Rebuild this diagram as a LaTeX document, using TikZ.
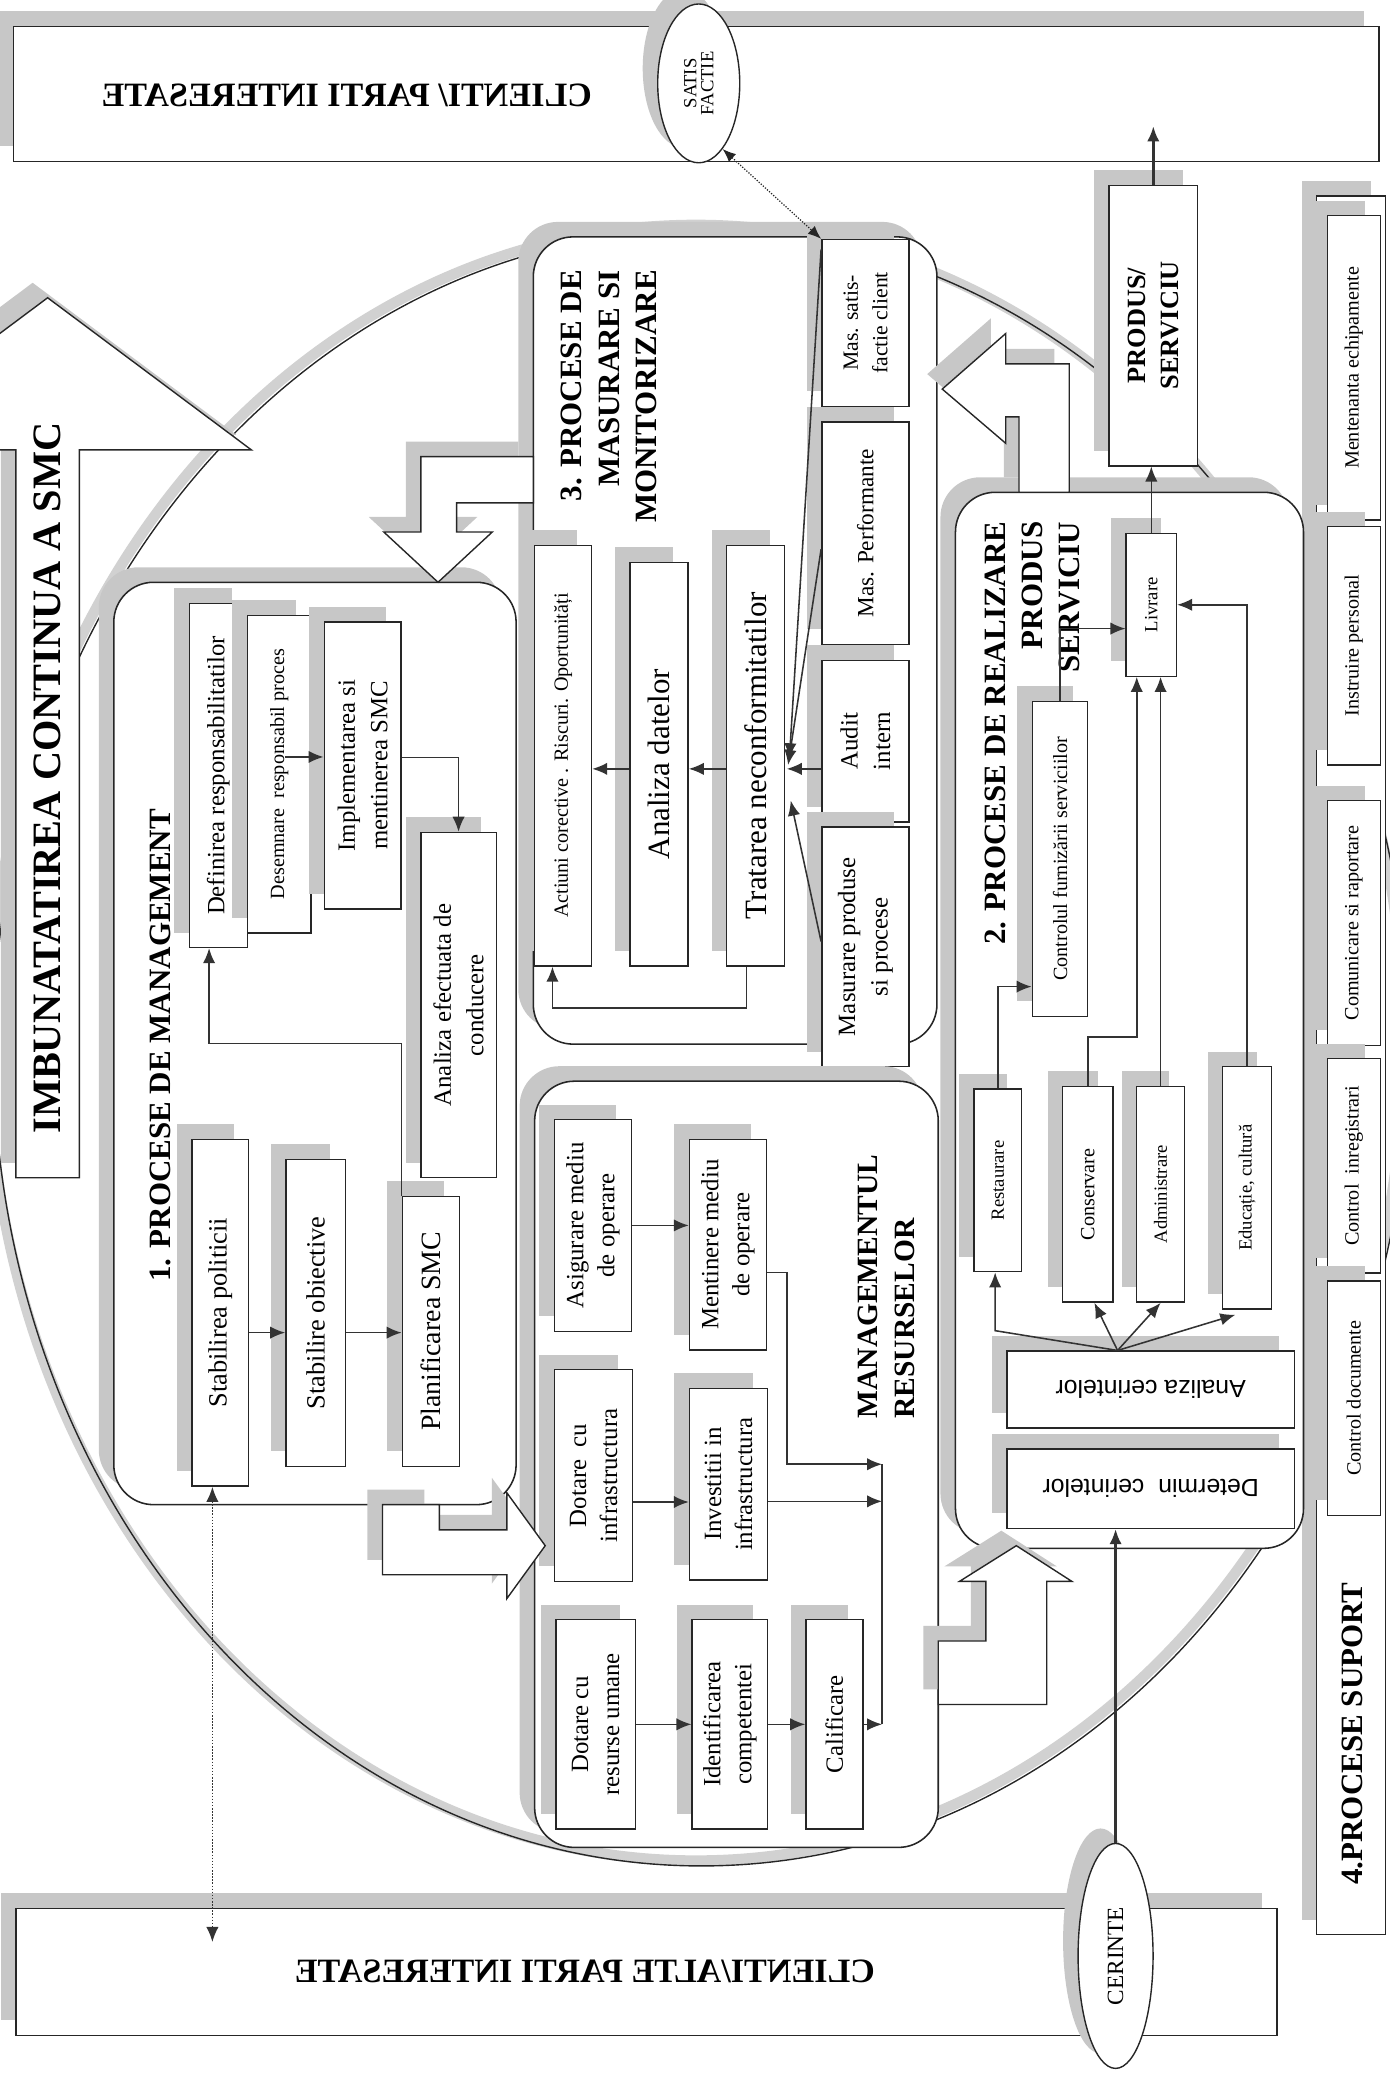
\documentclass[tikz,border=0pt]{standalone}
\usepackage{fontspec}
\setmainfont{Liberation Serif}
\newfontfamily\arialf{Liberation Sans}
\usepackage{tikz}
\usetikzlibrary{positioning}
\usetikzlibrary{calc}
\usetikzlibrary{fit}
\usetikzlibrary{shadows}
\usetikzlibrary{arrows.meta}
\usetikzlibrary{shapes.geometric}

\newcommand{\fsz}[2]{\fontsize{#1}{#2}\selectfont}

\tikzset{
  grayshadow/.style={general shadow={fill=black!22, shadow xshift=-3.4mm, shadow yshift=3.4mm}},
  procbox/.style={rectangle, draw=black!85, line width=0.9pt, fill=white, inner sep=0pt, grayshadow},
  groupbox/.style={procbox, rounded corners=9mm, line width=1pt},
  vtext/.style={rotate=90, align=center, inner sep=0pt, font=\fsz{16}{20}},
  flow/.style={draw=black!80, line width=1pt, -{Latex[length=3.4mm,width=2.8mm]}},
  blockarrow/.style={draw=black!85, line width=0.9pt, fill=white, grayshadow},
  grouptitle/.style={rotate=90, inner sep=0pt, font=\bfseries\fsz{20}{24}},
}

\begin{document}
\begin{tikzpicture}[x=0.3mm, y=-0.3mm]
  \useasboundingbox (0,0) rectangle (1050,1568);

  % cercul mare din spate
  \draw[line width=2.4mm, black!18] (526,788) ellipse [x radius=535, y radius=618];
  \draw[line width=0.9pt, black!85] (530,792) ellipse [x radius=535, y radius=618];

  % imbunatatirea continua
  \draw[blockarrow] (12,890) -- (12,340) -- (-118,340) -- (36,225) -- (190,340) -- (60,340) -- (60,890) -- cycle;
  \node[grouptitle, font=\bfseries\fsz{26}{30}] (imbtxt) at (36,588) {IMBUNATATIREA CONTINUA A SMC};

  % clienti
  \node[procbox, fit={(10,20)(1042,122)}] (clientsup) {};
  \node[xscale=-1, font=\bfseries\fsz{22}{26}] (clientsuptxt) at (262,72) {CLIENTI/ PARTI INTERESATE};
  \node[ellipse, draw=black!85, line width=0.9pt, fill=white, grayshadow, minimum width=18.6mm,
    minimum height=36mm, inner sep=0pt] (satis) at (528,63) {};
  \node[vtext, font=\fsz{12}{11}] (satistxt) at (satis) {SATIS\\FACTIE};

  \node[procbox, fit={(12,1442)(965,1538)}] (clientalte) {};
  \node[xscale=-1, font=\bfseries\fsz{22}{26}] (clientaltetxt) at (442,1490) {CLIENTI/ALTE PARTI INTERESATE};
  \node[ellipse, draw=black!85, line width=0.9pt, fill=white, grayshadow, minimum width=17mm,
    minimum height=51mm, inner sep=0pt] (cerinte) at (843,1478) {};
  \node[vtext, font=\fsz{15}{15}] (cerintetxt) at (cerinte) {CERINTE};

  % 4. procese suport
  \node[procbox, fit={(995,148)(1047,1462)}] (suport) {};
  \node[grouptitle] (suporttxt) at (1022,1310) {4.PROCESE SUPORT};
  \node[procbox, fit={(1003,163)(1043,393)}] (menten) {};
  \node[vtext, font=\fsz{13}{15}] at (menten) {Mentenanta echipamente};
  \node[procbox, fit={(1003,398)(1043,578)}] (instr) {};
  \node[vtext, font=\fsz{13}{15}] at (instr) {Instruire personal};
  \node[procbox, fit={(1003,605)(1043,790)}] (comunic) {};
  \node[vtext, font=\fsz{13}{15}] at (comunic) {Comunicare si raportare};
  \node[procbox, fit={(1003,800)(1043,962)}] (ctrlinreg) {};
  \node[vtext, font=\fsz{13}{15}] at (ctrlinreg) {Control\ \ inregistrari};
  \node[procbox, fit={(1003,968)(1043,1145)}] (ctrldoc) {};
  \node[vtext, font=\fsz{13}{15}] at (ctrldoc) {Control documente};

  % 1. procese de management
  \node[groupbox, fit={(86,440)(390,1137)}] (mgmt) {};
  \node[grouptitle] (mgmttxt) at (121,790) {1. PROCESE DE MANAGEMENT};
  \node[procbox, fit={(143,456)(187,716)}] (defin) {};
  \node[vtext] at (defin) {Definirea responsabilitatilor};
  \node[procbox, fit={(187,465)(235,705)}] (desemn) {};
  \node[vtext, font=\fsz{13}{15}] at (desemn) {Desemnare\ \ responsabil proces};
  \node[procbox, fit={(245,470)(303,687)}] (impl) {};
  \node[vtext, font=\fsz{16}{21}] at (impl) {Implementarea si\\mentinerea SMC};
  \node[procbox, fit={(318,629)(375,890)}] (anconduc) {};
  \node[vtext, font=\fsz{16}{21}] at (anconduc) {Analiza efectuata de\\conducere};
  \node[procbox, fit={(145,861)(188,1123)}] (stabpol) {};
  \node[vtext, font=\fsz{17}{20}] at (stabpol) {Stabilirea politicii};
  \node[procbox, fit={(216,876)(261,1108)}] (stabob) {};
  \node[vtext, font=\fsz{17}{20}] at (stabob) {Stabilire obiective};
  \node[procbox, fit={(304,904)(347,1108)}] (planif) {};
  \node[vtext, font=\fsz{18}{20}] at (planif) {Planificarea SMC};

  \draw[flow] ($(stabpol.east)+(0,15)$) coordinate (sp1) -- (sp1 -| stabob.west);
  \draw[flow] (sp1 -| stabob.east) -- (sp1 -| planif.west);
  \draw[flow] (planif.north west) -- ++(0,-115) -| ($(defin.south)+(-7,0)$);
  \draw[flow] ($(desemn.east)+(-20,-13)$) coordinate (ds1) -- (ds1 -| impl.west);
  \draw[flow] ($(impl.east)+(0,-6)$) -| (anconduc.north);
  \draw[densely dotted, line width=1pt, black!80, {Latex[length=3.4mm,width=2.8mm]}-{Latex[length=3.4mm,width=2.8mm]}]
    ($(stabpol.south)+(-6,0)$) coordinate (dt1) -- ($(dt1 |- clientalte.north)+(0,26)$);

  % 3. procese de masurare si monitorizare
  \node[groupbox, fit={(403,179)(708,789)}] (masur) {};
  \node[grouptitle, align=right, anchor=north east] (masurtxt) at (424,204) {3. PROCESE DE\\MASURARE SI\\MONITORIZARE};
  \node[procbox, fit={(404,412)(447,730)}] (actiuni) {};
  \node[vtext, font=\fsz{13}{15}] at (actiuni) {Actiuni corective\ . Riscuri. Oportunități};
  \node[procbox, fit={(476,425)(520,730)}] (analiza) {};
  \node[vtext, font=\fsz{20}{22}] at (analiza) {Analiza datelor};
  \node[procbox, fit={(549,412)(593,730)}] (tratarea) {};
  \node[vtext, font=\fsz{20}{22}] at (tratarea) {Tratarea neconformitatilor};
  \node[procbox, fit={(621,181)(687,307)}] (satisf) {};
  \node[vtext, font=\fsz{14}{19}] at (satisf) {Mas. satis-\\factie client};
  \node[procbox, fit={(621,319)(687,487)}] (perform) {};
  \node[vtext, font=\fsz{15}{18}] at (perform) {Mas. Performante};
  \node[procbox, fit={(621,499)(687,621)}] (audit) {};
  \node[vtext, font=\fsz{16}{21}] at (audit) {Audit\\intern};
  \node[procbox, fit={(621,625)(687,806)}] (masprod) {};
  \node[vtext, font=\fsz{16}{21}] at (masprod) {Masurare produse\\si procese};

  \coordinate (conv) at ($(tratarea.east)+(1,10)$);
  \draw[flow] (tratarea.west |- conv) -- (analiza.east |- conv);
  \draw[flow] (analiza.west |- conv) -- (actiuni.east |- conv);
  \draw[flow] (audit.west |- conv) -- (conv);
  \draw[flow] ($(masprod.west)+(0,-4)$) -- ($(conv)+(3,24)$);
  \draw[flow] ($(satisf.north west)+(0,8)$) -- ($(conv)+(2,-8)$);
  \draw[flow] ($(perform.west)+(0,12)$) -- ($(conv)+(1,-3)$);
  \draw[flow] ($(tratarea.south)+(-7,0)$) -- ++(0,31) -| ($(actiuni.south west)+(14,0)$);
  \draw[densely dotted, line width=0.8pt, black!85, {Latex[length=3mm,width=2.4mm]}-{Latex[length=3mm,width=2.4mm]}]
    (satis.290) -- (satisf.north west);

  % managementul resurselor
  \node[groupbox, fit={(404,817)(709,1396)}] (resurse) {};
  \node[grouptitle, font=\bfseries\fsz{19}{24}, align=left, anchor=north west] (resursetxt) at (648,1072) {MANAGEMENTUL\\RESURSELOR};
  \node[procbox, fit={(419,846)(477,1006)}] (asig) {};
  \node[vtext] at (asig) {Asigurare mediu\\de operare};
  \node[procbox, fit={(521,861)(579,1020)}] (mentin) {};
  \node[vtext] at (mentin) {Mentinere mediu\\de operare};
  \node[procbox, fit={(419,1035)(478,1195)}] (dotinf) {};
  \node[vtext] at (dotinf) {Dotare\ \ cu\\infrastructura};
  \node[procbox, fit={(521,1049)(580,1194)}] (invest) {};
  \node[vtext] at (invest) {Investitii in\\infrastructura};
  \node[procbox, fit={(420,1224)(480,1382)}] (dotres) {};
  \node[vtext] at (dotres) {Dotare cu\\resurse umane};
  \node[procbox, fit={(523,1224)(580,1382)}] (ident) {};
  \node[vtext] at (ident) {Identificarea\\competentei};
  \node[procbox, fit={(609,1224)(652,1382)}] (calif) {};
  \node[vtext] at (calif) {Calificare};

  \draw[flow] (asig.east) -- (asig.east -| mentin.west);
  \draw[flow] ($(dotinf.east)+(0,20)$) coordinate (di1) -- (di1 -| invest.west);
  \draw[flow] (dotres.east) -- (dotres.east -| ident.west);
  \draw[flow] (ident.east) -- (ident.east -| calif.west);
  \coordinate (colltop) at ($(calif.north east)+(14,-117)$);
  \draw[black!80, line width=1pt] (colltop) -- (colltop |- calif.east);
  \draw[flow] ($(mentin.east)+(0,21)$) -- ++(15,0) |- (colltop);
  \draw[flow] ($(invest.east)+(0,13)$) coordinate (iv1) -- (iv1 -| colltop);
  \draw[flow] (calif.east) -- (calif.east -| colltop);

  % 2. procese de realizare
  \node[groupbox, fit={(722,372)(985,1170)}] (realiz) {};
  \node[grouptitle, align=right, anchor=north east] (realiztxt) at (744,394) {2. PROCESE DE REALIZARE\\PRODUS\\SERVICIU};
  \node[procbox, fit={(851,403)(889,511)}] (livrare) {};
  \node[vtext, font=\fsz{12}{14}] at (livrare) {Livrare};
  \node[procbox, fit={(780,530)(822,768)}] (controlul) {};
  \node[vtext, font=\fsz{13}{15}] at (controlul) {Controlul furnizării serviciilor};
  \node[procbox, fit={(736,823)(772,961)}] (restaur) {};
  \node[vtext, font=\fsz{12}{14}] at (restaur) {Restaurare};
  \node[procbox, fit={(803,821)(841,984)}] (conserv) {};
  \node[vtext, font=\fsz{13}{14}] at (conserv) {Conservare};
  \node[procbox, fit={(859,821)(895,984)}] (admin) {};
  \node[vtext, font=\fsz{12}{14}] at (admin) {Administrare};
  \node[procbox, fit={(924,806)(961,989)}] (educ) {};
  \node[vtext, font=\fsz{12}{14}] at (educ) {Educație, cultură};
  \node[procbox, fit={(761,1021)(978,1079)}] (analcer) {};
  \node[rotate=180, font=\arialf\fsz{16}{18}] at (analcer) {Analiza cerintelor};
  \node[procbox, fit={(761,1095)(978,1155)}] (determ) {};
  \node[rotate=180, font=\arialf\fsz{16}{18}] at (determ) {Determin\ \ cerintelor};

  \coordinate (fan) at ($(analcer.north)+(-25,0)$);
  \draw[flow] (fan) -- ($(restaur.south)+(-2,44)$) -- ($(restaur.south)+(-2,0)$);
  \draw[flow] (fan) -- ($(conserv.south)+(5,0)$);
  \draw[flow] (fan) -- (admin.south);
  \draw[flow] (fan) -- ($(educ.south west)+(10,4)$);
  \draw[flow] (restaur.north) |- ($(controlul.south west)+(0,-23)$);
  \draw[flow] (conserv.north) -- ++(0,-37) -| ($(livrare.south)+(-11,0)$);
  \draw[flow] (admin.north) -- (admin.north |- livrare.south);
  \draw[flow] (educ.north) |- (livrare.east);
  \draw[flow] (controlul.north) |- ($(livrare.west)+(0,18)$);

  \node[procbox, fit={(838,140)(905,352)}] (produs) {};
  \node[vtext, font=\bfseries\fsz{17}{21}] at (produs) {PRODUS/\\SERVICIU};
  \draw[flow] (livrare.north) -- (livrare.north |- produs.south);
  \draw[flow, line width=1.6pt] (produs.north) -- ++(0,-44);
  \draw[flow, line width=1.6pt] (cerinte.north) -- (cerinte.north |- determ.south);

  % sagetile mari dintre grupuri
  \draw[blockarrow] (289,1137) -- (289,1190) -- (383,1190) -- (383,1208) -- (412,1168) -- (383,1128)
    -- (383,1156) -- (332,1156) -- (332,1137) -- cycle;
  \draw[blockarrow] (709,1240) -- (745,1240) -- (745,1195) -- (725,1195) -- (768,1168) -- (810,1195)
    -- (791,1195) -- (791,1288) -- (709,1288) -- cycle;
  \draw[blockarrow] (808,372) -- (808,275) -- (760,275) -- (760,252) -- (712,294) -- (760,335)
    -- (760,315) -- (770,315) -- (770,372) -- cycle;
  \draw[blockarrow] (403,345) -- (318,345) -- (318,402) -- (290,402) -- (331,440) -- (372,402)
    -- (345,402) -- (345,380) -- (403,380) -- cycle;
\end{tikzpicture}
\end{document}
